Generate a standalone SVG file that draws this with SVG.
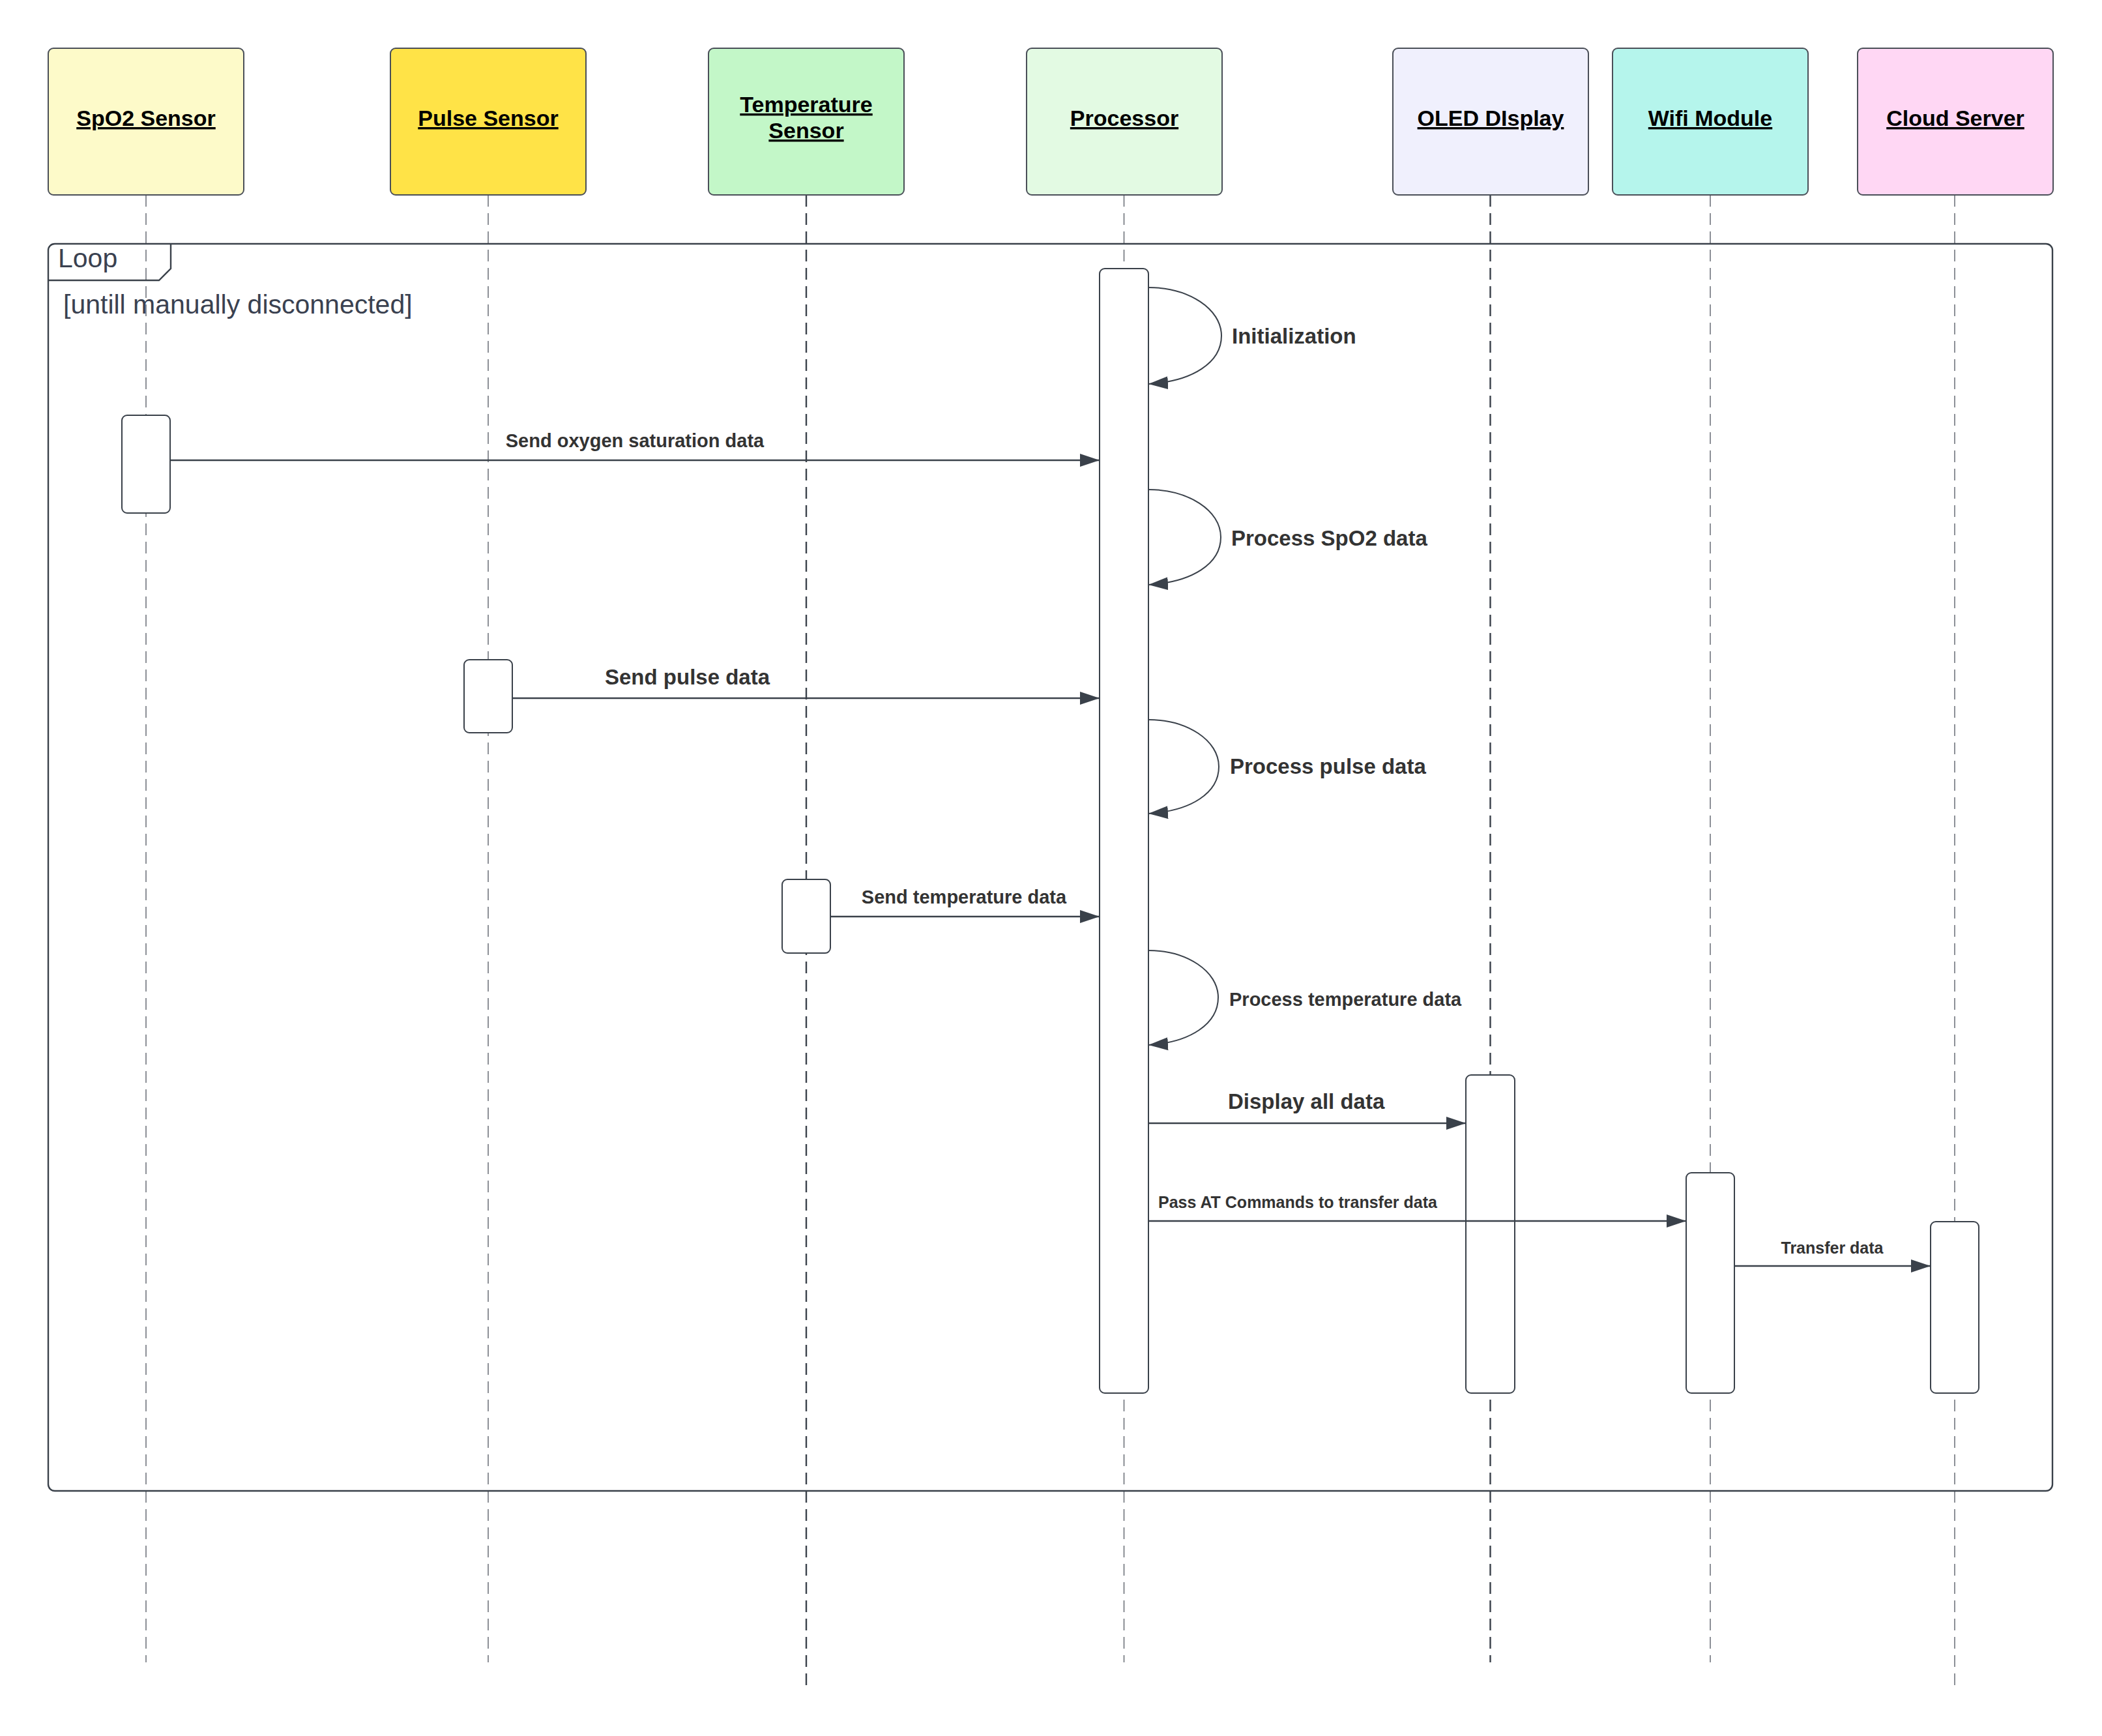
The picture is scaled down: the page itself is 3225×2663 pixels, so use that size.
<svg xmlns="http://www.w3.org/2000/svg" width="3225" height="2663" viewBox="0 0 3225 2663">
  <style>
    .head { stroke: #4a4f58; stroke-width: 2; }
    .title { font-family: "Liberation Sans", Arial, sans-serif; font-weight: bold; font-size: 34px; fill: #000; text-decoration: underline; text-anchor: middle; }
    .life { fill: none; stroke: #5d626b; stroke-width: 1.4; stroke-dasharray: 18 10; }
    .life-dark { fill: none; stroke: #3a414a; stroke-width: 2.4; stroke-dasharray: 18 10; }
    .act { fill: #ffffff; stroke: #3a414a; stroke-width: 2; }
    .msg { fill: none; stroke: #3a414a; stroke-width: 2.4; marker-end: url(#arrow); }
    .self { fill: none; stroke: #3a414a; stroke-width: 2; marker-end: url(#arrow); }
    .lbl { font-family: "Liberation Sans", Arial, sans-serif; font-weight: bold; fill: #333333; }
    .frame { fill: none; stroke: #3a414a; stroke-width: 2.4; }
    .frame-txt { font-family: "Liberation Sans", Arial, sans-serif; fill: #3a4150; font-size: 41px; }
  </style>
  <defs>
    <marker id="arrow" markerUnits="userSpaceOnUse" markerWidth="30" markerHeight="20" refX="30" refY="10" orient="auto">
      <path d="M0,0 L30,10 L0,20 Z" fill="#3a414a"/>
    </marker>
  </defs>

  <rect width="3225" height="2663" fill="#ffffff"/>

  <!-- lifelines -->
  <g id="lifelines">
    <line class="life" x1="224" y1="299" x2="224" y2="2550"/>
    <line class="life" x1="749" y1="299" x2="749" y2="2550"/>
    <line class="life-dark" x1="1237" y1="299" x2="1237" y2="2587"/>
    <line class="life" x1="1724.5" y1="299" x2="1724.5" y2="2550"/>
    <line class="life-dark" x1="2286.5" y1="299" x2="2286.5" y2="2550"/>
    <line class="life" x1="2624" y1="299" x2="2624" y2="2550"/>
    <line class="life" x1="2999" y1="299" x2="2999" y2="2587"/>
  </g>

  <!-- loop fragment -->
  <g id="loop">
    <rect class="frame" x="74" y="374" width="3075" height="1913" rx="10"/>
    <path class="frame" d="M74,430 L244,430 L262,412 L262,374"/>
    <text class="frame-txt" x="89" y="410">Loop</text>
    <text class="frame-txt" x="97" y="481">[untill manually disconnected]</text>
  </g>

  <!-- participants -->
  <g id="spo2-sensor">
    <rect class="head" x="74" y="74" width="300" height="225" rx="8" fill="#fdfac9"/>
    <text class="title" x="224" y="193">SpO2 Sensor</text>
    <rect class="act" x="187" y="637" width="74" height="150" rx="8"/>
  </g>
  <g id="pulse-sensor">
    <rect class="head" x="599" y="74" width="300" height="225" rx="8" fill="#ffe347"/>
    <text class="title" x="749" y="193">Pulse Sensor</text>
    <rect class="act" x="712" y="1012" width="74" height="112" rx="8"/>
  </g>
  <g id="temperature-sensor">
    <rect class="head" x="1087" y="74" width="300" height="225" rx="8" fill="#c3f7c8"/>
    <text class="title" x="1237" y="172">Temperature</text>
    <text class="title" x="1237" y="212">Sensor</text>
    <rect class="act" x="1200" y="1349" width="74" height="113" rx="8"/>
  </g>
  <g id="processor">
    <rect class="head" x="1575" y="74" width="300" height="225" rx="8" fill="#e3fae3"/>
    <text class="title" x="1725" y="193">Processor</text>
    <rect class="act" x="1687" y="412" width="75" height="1725" rx="8"/>
  </g>
  <g id="oled-display">
    <rect class="head" x="2137" y="74" width="300" height="225" rx="8" fill="#f0f0fd"/>
    <text class="title" x="2287" y="193">OLED DIsplay</text>
    <rect class="act" x="2249" y="1649" width="75" height="488" rx="8"/>
  </g>
  <g id="wifi-module">
    <rect class="head" x="2474" y="74" width="300" height="225" rx="8" fill="#b5f5ec"/>
    <text class="title" x="2624" y="193">Wifi Module</text>
    <rect class="act" x="2587" y="1799" width="74" height="338" rx="8"/>
  </g>
  <g id="cloud-server">
    <rect class="head" x="2850" y="74" width="300" height="225" rx="8" fill="#ffd7f4"/>
    <text class="title" x="3000" y="193">Cloud Server</text>
    <rect class="act" x="2962" y="1874" width="74" height="263" rx="8"/>
  </g>

  <!-- messages -->
  <g id="connectors">
    <path class="self" d="M1762,441 C1824,441 1874,474 1874,515 C1874,556 1830,585 1762,589"/>
    <path class="msg" d="M261,706 L1687,706"/>
    <path class="self" d="M1762,751 C1823,751 1873,783 1873,824 C1873,865 1829,893 1762,897"/>
    <path class="msg" d="M786,1071 L1687,1071"/>
    <path class="self" d="M1762,1104 C1822,1104 1870,1136 1870,1176 C1870,1216 1828,1244 1762,1248"/>
    <path class="msg" d="M1274,1406 L1687,1406"/>
    <path class="self" d="M1762,1458 C1821,1458 1869,1490 1869,1530 C1869,1570 1827,1599 1762,1603"/>
    <path class="msg" d="M1762,1723 L2249,1723"/>
    <path class="msg" d="M1762,1873 L2587,1873"/>
    <path class="msg" d="M2661,1942 L2962,1942"/>
  </g>

  <!-- message labels -->
  <g id="labels">
    <text class="lbl" x="1890" y="527" font-size="33">Initialization</text>
    <text class="lbl" x="974" y="686" font-size="29" text-anchor="middle">Send oxygen saturation data</text>
    <text class="lbl" x="1889" y="837" font-size="33">Process SpO2 data</text>
    <text class="lbl" x="928" y="1050" font-size="33">Send pulse data</text>
    <text class="lbl" x="1887" y="1187" font-size="33">Process pulse data</text>
    <text class="lbl" x="1479" y="1386" font-size="29" text-anchor="middle">Send temperature data</text>
    <text class="lbl" x="1886" y="1543" font-size="29">Process temperature data</text>
    <text class="lbl" x="1884" y="1701" font-size="33">Display all data</text>
    <text class="lbl" x="1777" y="1853" font-size="25">Pass AT Commands to transfer data</text>
    <text class="lbl" x="2811" y="1923" font-size="25" text-anchor="middle">Transfer data</text>
  </g>
</svg>
